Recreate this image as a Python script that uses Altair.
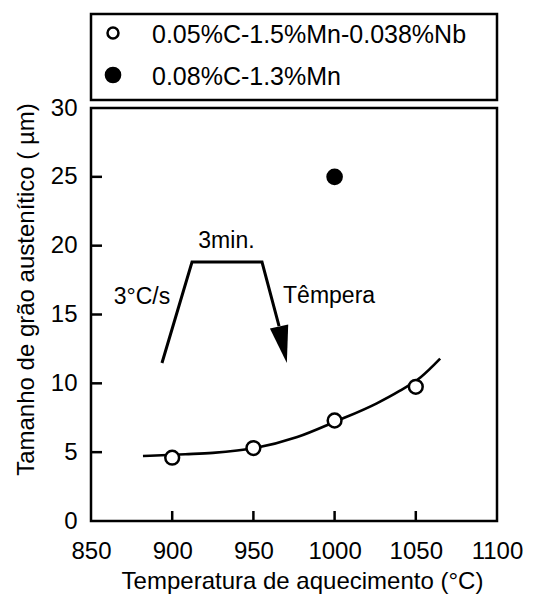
import altair as alt
import pandas as pd

FONT = "Liberation Sans"

# ---- data ----
series_labels = ["0.05%C-1.5%Mn-0.038%Nb", "0.08%C-1.3%Mn"]
nb_temp = [900, 950, 1000, 1050]
nb_size = [4.6, 5.3, 7.3, 9.75]
mn_temp = [1000]
mn_size = [25.0]
fit_temp = [882, 908, 925, 951, 977, 1001, 1026, 1040, 1053, 1065]
fit_size = [4.72, 4.85, 4.95, 5.3, 6.1, 7.25, 8.55, 9.45, 10.45, 11.8]
profile_temp = [893.7, 912.2, 955.3, 965.8]
profile_size = [11.48, 18.81, 18.81, 14.16]
arrow_temp = [968.2]
arrow_size = [12.8]
note_text = ["3min.", "3°C/s", "Têmpera"]
note_temp = [933.4, 881.4, 996.6]
note_size = [19.83, 15.76, 15.83]
x_ticks = [850, 900, 950, 1000, 1050, 1100]
y_ticks = [0, 5, 10, 15, 20, 25, 30]

x_scale = alt.Scale(domain=[850, 1100], nice=False, zero=False)
y_scale = alt.Scale(domain=[0, 30], nice=False)

x_axis = alt.Axis(
    title="Temperatura de aquecimento (°C)", values=x_ticks, format="d", ticks=False, tickSize=0,
    domain=False, grid=False, labelFont=FONT, labelFontSize=24, labelColor="black",
    labelPadding=18, labelFlush=False, labelOverlap=False,
    titleFont=FONT, titleFontSize=24, titleFontWeight="normal", titleColor="black",
    titleX=211, titleY=67, titleBaseline="alphabetic", titleAlign="center",
)
y_axis = alt.Axis(
    title="Tamanho de grão austenítico ( µm)", values=y_ticks, format="d", ticks=False, tickSize=0,
    domain=False, grid=False, labelFont=FONT, labelFontSize=24, labelColor="black",
    labelPadding=14, labelFlush=False, labelOverlap=False,
    titleFont=FONT, titleFontSize=24, titleFontWeight="normal", titleColor="black",
    titleX=-58, titleY=181, titleAngle=270, titleBaseline="alphabetic", titleAlign="center",
)

fit_df = pd.DataFrame({"t": fit_temp, "s": fit_size})
prof_df = pd.DataFrame({"t": profile_temp, "s": profile_size, "i": list(range(len(profile_temp)))})
arrow_df = pd.DataFrame({"t": arrow_temp, "s": arrow_size})
nb_df = pd.DataFrame({"t": nb_temp, "s": nb_size})
mn_df = pd.DataFrame({"t": mn_temp, "s": mn_size})
note_df = pd.DataFrame({"t": note_temp, "s": note_size, "note": note_text})
xt_df = pd.DataFrame({"t": x_ticks[1:-1]})
yt_df = pd.DataFrame({"s": y_ticks[1:-1]})

curve = alt.Chart(fit_df).mark_line(color="black", strokeWidth=2.6, interpolate="monotone").encode(
    x=alt.X("t:Q", scale=x_scale, axis=x_axis),
    y=alt.Y("s:Q", scale=y_scale, axis=y_axis),
)
profile = alt.Chart(prof_df).mark_line(color="black", strokeWidth=3, strokeJoin="miter").encode(
    x="t:Q", y="s:Q", order="i:Q"
)
arrow = alt.Chart(arrow_df).mark_point(
    shape="M -0.5 -1 L 0.5 -1 L 0 1 Z", filled=True, color="black", opacity=1, size=1400, angle=348
).encode(x="t:Q", y="s:Q")
nb_pts = alt.Chart(nb_df).mark_point(
    filled=True, fill="white", stroke="black", strokeWidth=2.5, opacity=1, size=190
).encode(x="t:Q", y="s:Q")
mn_pts = alt.Chart(mn_df).mark_point(
    filled=True, fill="black", stroke="black", strokeWidth=2.5, opacity=1, size=200
).encode(x="t:Q", y="s:Q")
notes = alt.Chart(note_df).mark_text(
    font=FONT, fontSize=23, baseline="alphabetic", align="center", color="black"
).encode(x="t:Q", y="s:Q", text="note:N")
xticks = alt.Chart(xt_df).mark_tick(
    orient="vertical", size=10, thickness=2.5, yOffset=-5, color="black", opacity=1
).encode(x="t:Q", y=alt.datum(0))
yticks = alt.Chart(yt_df).mark_tick(
    orient="horizontal", size=11, thickness=2.5, xOffset=5.5, color="black", opacity=1
).encode(x=alt.datum(850), y="s:Q")

main = alt.layer(curve, profile, arrow, nb_pts, mn_pts, notes, xticks, yticks).properties(
    width=406, height=413
)

# ---- legend panel ----
leg_df = pd.DataFrame({"label": series_labels, "kind": ["open", "filled"]})
leg_y = alt.Y("label:N", sort=series_labels, axis=None,
              scale=alt.Scale(type="point", range=[19, 61], padding=0))
leg_pts = alt.Chart(leg_df).mark_point(filled=True, stroke="black", strokeWidth=2.5, opacity=1).encode(
    x=alt.value(22),
    y=leg_y,
    fill=alt.Fill("kind:N", scale=alt.Scale(domain=["open", "filled"], range=["white", "black"]), legend=None),
    size=alt.Size("kind:O", scale=alt.Scale(domain=["open", "filled"], range=[120, 200]), legend=None),
)
leg_txt = alt.Chart(leg_df).mark_text(
    font=FONT, fontSize=25, align="left", baseline="middle", dy=2, color="black"
).encode(x=alt.value(61), y=leg_y, text="label:N")
legend_panel = alt.layer(leg_pts, leg_txt).properties(width=406, height=86)

chart = alt.vconcat(legend_panel, main, spacing=8, bounds="flush").configure_view(
    stroke="black", strokeWidth=2.5
).properties(
    padding={"left": 12, "top": 12, "right": 5, "bottom": 0}, background="white"
)

chart.save("out.html", embed_options={"renderer": "svg", "actions": False})
